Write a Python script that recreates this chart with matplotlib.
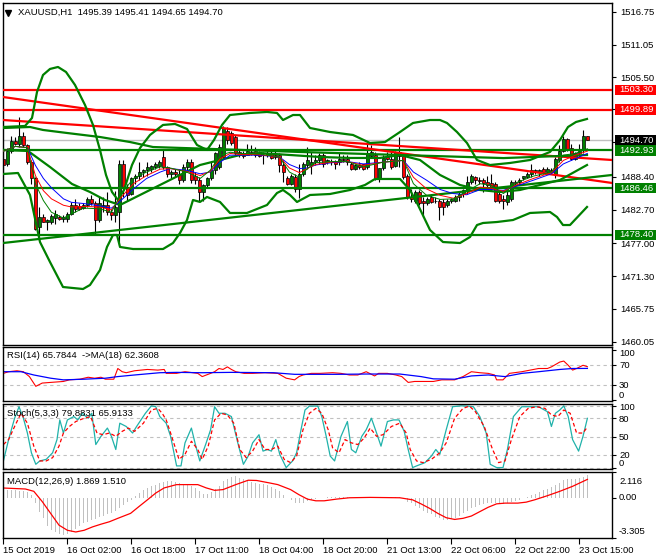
import matplotlib
matplotlib.use("Agg")
import matplotlib.pyplot as plt
from matplotlib.patches import Rectangle
import numpy as np

# ---------------- data ----------------
title_text = "XAUUSD,H1  1495.39 1495.41 1494.65 1494.70"
time_labels = ["15 Oct 2019", "16 Oct 02:00", "16 Oct 18:00", "17 Oct 11:00", "18 Oct 04:00",
               "18 Oct 20:00", "21 Oct 13:00", "22 Oct 06:00", "22 Oct 22:00", "23 Oct 15:00"]
time_label_bars = [0, 16, 32, 48, 64, 80, 96, 112, 128, 144]

opens = [1491.5, 1490.6, 1492.8, 1494.5, 1494.1, 1495.4, 1493.8, 1490.9, 1488.1, 1479.8,
         1481.5, 1480.6, 1480.6, 1481.3, 1481.5, 1481.1, 1481.1, 1482.0, 1483.6, 1483.4,
         1483.0, 1483.5, 1484.5, 1483.8, 1480.9, 1483.2, 1483.6, 1482.4, 1481.8, 1482.3,
         1490.6, 1486.6, 1485.5, 1488.1, 1488.6, 1489.2, 1489.5, 1489.8, 1490.1, 1490.3,
         1491.8, 1490.0, 1488.9, 1489.2, 1488.8, 1487.8, 1490.1, 1491.0, 1488.6, 1487.8,
         1485.8, 1486.9, 1488.1, 1489.5, 1490.1, 1491.8, 1496.3, 1495.9, 1495.2, 1492.6,
         1492.2, 1492.2, 1492.6, 1492.9, 1492.4, 1492.1, 1492.2, 1492.4, 1492.2, 1492.2,
         1490.4, 1488.1, 1487.2, 1488.4, 1486.3, 1488.9, 1490.4, 1490.4, 1490.9, 1491.2,
         1492.1, 1490.9, 1490.9, 1490.9, 1490.9, 1491.5, 1491.5, 1490.6, 1489.8, 1490.4,
         1490.5, 1490.1, 1491.9, 1492.2, 1488.2, 1489.9, 1491.8, 1491.5, 1490.3, 1492.6,
         1492.0, 1488.6, 1484.9, 1484.3, 1485.8, 1484.3, 1483.8, 1484.9, 1484.2, 1484.3,
         1484.1, 1483.5, 1484.3, 1484.3, 1484.9, 1485.5, 1486.1, 1487.5, 1488.4, 1487.8,
         1487.8, 1487.5, 1487.4, 1487.2, 1485.5, 1484.5, 1484.1, 1484.6, 1487.5, 1487.5,
         1488.1, 1488.4, 1488.9, 1489.3, 1489.2, 1489.8, 1489.2, 1489.5, 1488.9, 1491.2,
         1492.9, 1494.8, 1493.3, 1491.5, 1492.4, 1493.0, 1495.39]
highs = [1492.9, 1493.3, 1495.4, 1495.2, 1498.7, 1496.1, 1494.1, 1491.2, 1488.4, 1483.2,
         1482.0, 1481.2, 1482.0, 1482.6, 1481.9, 1481.8, 1482.3, 1484.0, 1484.6, 1483.8,
         1483.8, 1484.9, 1485.2, 1484.2, 1484.9, 1484.9, 1485.8, 1482.9, 1486.0, 1491.2,
         1491.2, 1487.2, 1488.4, 1488.9, 1490.9, 1489.8, 1490.9, 1490.4, 1490.9, 1491.2,
         1493.2, 1490.3, 1489.5, 1489.8, 1489.5, 1490.6, 1491.5, 1491.5, 1489.2, 1488.3,
         1487.2, 1488.4, 1490.9, 1492.6, 1494.0, 1497.1, 1496.9, 1496.2, 1495.5, 1493.1,
         1492.9, 1494.1, 1493.8, 1493.5, 1492.8, 1492.6, 1492.8, 1492.8, 1492.8, 1492.4,
         1491.2, 1488.6, 1488.9, 1488.9, 1490.6, 1490.9, 1493.5, 1492.6, 1492.1, 1492.4,
         1492.4, 1491.5, 1491.5, 1491.2, 1492.4, 1492.1, 1492.1, 1490.9, 1490.6, 1490.9,
         1490.6, 1494.4, 1493.8, 1492.6, 1489.9, 1492.1, 1492.6, 1492.6, 1492.9, 1495.2,
         1492.3, 1488.9, 1486.3, 1486.1, 1486.1, 1484.9, 1484.9, 1485.5, 1484.9, 1484.5,
         1484.6, 1484.5, 1484.7, 1485.2, 1485.8, 1486.3, 1488.6, 1488.9, 1488.6, 1488.4,
         1488.1, 1488.6, 1488.9, 1487.5, 1485.8, 1485.2, 1486.1, 1487.8, 1487.8, 1488.1,
         1488.6, 1489.2, 1490.6, 1489.8, 1489.8, 1490.1, 1490.1, 1489.9, 1491.8, 1493.8,
         1495.4, 1495.1, 1494.1, 1492.6, 1494.1, 1496.4, 1495.41]
lows = [1488.9, 1490.3, 1492.5, 1493.8, 1493.5, 1493.5, 1490.6, 1487.2, 1479.2, 1477.5,
        1480.6, 1479.2, 1480.3, 1480.3, 1480.9, 1480.6, 1480.6, 1481.8, 1482.3, 1482.6,
        1482.8, 1483.2, 1483.5, 1478.6, 1480.6, 1482.3, 1481.8, 1480.9, 1480.6, 1476.6,
        1484.9, 1484.3, 1485.2, 1487.2, 1487.8, 1488.3, 1488.6, 1489.2, 1489.8, 1489.9,
        1489.8, 1488.3, 1488.1, 1488.4, 1487.2, 1487.5, 1489.5, 1487.4, 1487.2, 1484.3,
        1484.3, 1486.6, 1487.8, 1488.9, 1489.8, 1491.5, 1494.1, 1493.8, 1492.1, 1491.8,
        1491.6, 1492.1, 1492.1, 1491.8, 1491.8, 1490.6, 1491.8, 1491.5, 1491.5, 1489.2,
        1487.5, 1486.9, 1486.9, 1485.8, 1484.7, 1488.6, 1489.8, 1488.9, 1490.4, 1490.6,
        1490.1, 1490.5, 1490.4, 1489.8, 1490.4, 1490.9, 1490.4, 1489.5, 1489.5, 1489.8,
        1489.5, 1489.8, 1491.6, 1487.9, 1487.5, 1489.6, 1491.2, 1489.8, 1490.0, 1490.0,
        1488.0, 1484.6, 1484.0, 1483.8, 1483.5, 1481.5, 1483.5, 1483.8, 1483.8, 1480.9,
        1481.8, 1483.2, 1483.8, 1484.0, 1484.3, 1484.9, 1485.5, 1487.2, 1487.2, 1487.2,
        1485.8, 1486.3, 1486.1, 1484.1, 1483.8, 1482.9, 1483.5, 1484.3, 1486.6, 1487.0,
        1487.8, 1488.1, 1488.4, 1488.9, 1488.6, 1488.9, 1488.9, 1488.9, 1488.1, 1490.9,
        1492.6, 1492.9, 1491.2, 1491.2, 1491.8, 1492.4, 1494.65]
closes = [1490.4, 1492.8, 1494.6, 1494.1, 1495.4, 1493.8, 1490.9, 1488.1, 1479.5, 1481.5,
          1480.7, 1480.9, 1481.6, 1482.0, 1481.2, 1481.5, 1482.0, 1483.6, 1482.9, 1482.9,
          1483.6, 1484.5, 1483.9, 1480.9, 1483.8, 1483.6, 1482.4, 1481.8, 1483.2, 1490.6,
          1486.6, 1485.3, 1488.1, 1488.6, 1489.2, 1489.5, 1490.1, 1490.2, 1490.6, 1490.9,
          1490.1, 1488.9, 1489.2, 1488.8, 1487.8, 1490.1, 1491.0, 1487.8, 1487.8, 1485.8,
          1486.9, 1488.1, 1489.5, 1492.4, 1493.5, 1496.8, 1494.7, 1494.2, 1492.4, 1492.1,
          1492.0, 1492.9, 1492.5, 1492.1, 1491.9, 1492.2, 1492.4, 1491.6, 1491.8, 1490.4,
          1489.2, 1487.2, 1488.6, 1486.3, 1488.9, 1490.6, 1491.2, 1491.0, 1491.2, 1492.1,
          1490.5, 1491.2, 1491.0, 1490.5, 1491.5, 1491.2, 1490.9, 1489.8, 1490.4, 1490.1,
          1489.7, 1492.4, 1492.6, 1488.2, 1489.9, 1491.6, 1491.5, 1490.1, 1492.6, 1492.0,
          1488.4, 1484.9, 1484.5, 1485.8, 1483.8, 1483.9, 1484.5, 1484.1, 1484.3, 1483.2,
          1483.2, 1484.3, 1484.6, 1484.9, 1485.5, 1486.1, 1487.5, 1488.6, 1487.8, 1487.6,
          1487.4, 1486.9, 1486.6, 1484.3, 1484.3, 1484.3, 1485.2, 1487.5, 1487.4, 1487.8,
          1488.5, 1488.9, 1489.5, 1489.5, 1489.5, 1489.2, 1489.8, 1489.2, 1491.5, 1492.9,
          1494.8, 1493.2, 1491.5, 1492.4, 1492.9, 1495.4, 1494.70]

# horizontal levels
green_levels = [1492.93, 1486.46, 1478.40]
red_levels = [1503.30, 1499.89]
last_price = 1494.70

# trend lines: (bar, price) anchors at the two chart edges
red_trend1 = ([-0.1, 152.2], [1502.09, 1487.32])
red_trend2 = ([-0.1, 152.2], [1498.14, 1491.27])
green_trend = ([-0.1, 152.2], [1477.01, 1488.70])

# Bollinger bands (bar, price)
bb_up_x = [0, 5.4, 7.15, 8.4, 9.9, 11.65, 13.65, 15.65, 17.9, 20.4, 22.4, 24.15, 25.65, 27.15, 28.65,
           30.15, 32.15, 34.15, 36.65, 39.9, 42.9, 45.9, 48.4, 50.9, 52.65, 54.65, 56.65, 61.65, 65.9,
           68.4, 69.9, 72.4, 74.15, 76.65, 81.65, 87.4, 91.65, 95.4, 99.15, 102.4, 106.65, 109.15,
           110.9, 113.4, 115.9, 118.4, 121.65, 126.65, 131.65, 136.65, 139.15, 141.15, 143.15, 145.9]
bb_up_y = [1496.94, 1497.11, 1498.49, 1502.95, 1505.87, 1506.91, 1507.25, 1506.39, 1504.16, 1500.72,
           1497.29, 1492.99, 1488.70, 1485.77, 1484.40, 1486.12, 1490.41, 1493.33, 1495.57, 1497.29,
           1497.46, 1496.60, 1493.85, 1492.99, 1494.71, 1497.29, 1499.00, 1499.35, 1499.52, 1499.35,
           1498.14, 1499.00, 1499.00, 1496.77, 1496.08, 1495.57, 1494.19, 1494.36, 1496.08, 1497.63,
           1498.14, 1498.14, 1497.63, 1496.08, 1494.19, 1491.27, 1490.41, 1490.76, 1491.27, 1492.65,
           1494.71, 1496.94, 1497.80, 1498.32]
bb_mid_x = [0, 6.15, 11.65, 17.15, 21.65, 25.4, 29.15, 34.15, 39.15, 44.15, 49.15, 54.15, 59.15, 64.15,
            71.65, 79.15, 86.65, 94.15, 99.15, 104.15, 109.15, 114.15, 119.15, 124.15, 129.15, 134.15,
            139.15, 145.9]
bb_mid_y = [1492.99, 1492.82, 1490.07, 1487.15, 1485.77, 1484.40, 1483.54, 1485.26, 1486.98, 1488.70,
            1490.41, 1491.27, 1492.13, 1492.47, 1492.13, 1491.79, 1491.62, 1491.62, 1492.13, 1491.27,
            1488.70, 1486.98, 1486.12, 1485.77, 1486.12, 1486.98, 1487.84, 1490.41]
bb_low_x = [0, 3.65, 6.65, 9.15, 11.65, 14.9, 19.9, 21.65, 24.15, 25.9, 27.4, 28.4, 29.15, 32.4, 39.9,
            42.4, 44.15, 45.9, 47.4, 49.15, 50.9, 54.15, 56.65, 60.9, 65.9, 68.4, 69.9, 71.65, 73.4,
            76.65, 81.65, 86.65, 90.4, 92.9, 99.15, 101.65, 103.4, 106.65, 109.9, 114.15, 116.65,
            118.4, 119.9, 123.4, 127.4, 131.65, 136.65, 138.4, 139.9, 141.65, 145.9]
bb_low_y = [1488.87, 1489.04, 1485.26, 1477.18, 1473.75, 1469.45, 1469.11, 1469.80, 1472.37, 1476.33,
            1478.39, 1478.39, 1476.33, 1475.98, 1475.98, 1477.01, 1478.73, 1480.96, 1484.40, 1484.06,
            1484.92, 1484.06, 1482.17, 1482.17, 1483.54, 1485.60, 1486.12, 1485.26, 1484.06, 1485.26,
            1485.43, 1486.12, 1486.98, 1488.01, 1488.01, 1486.12, 1483.89, 1479.25, 1477.18, 1477.01,
            1478.04, 1480.10, 1480.45, 1480.62, 1480.96, 1482.17, 1482.34, 1481.48, 1480.10, 1480.10,
            1483.20]
slow_x = [0, 6.65, 9.9, 15.9, 24.15, 31.65, 37.4, 44.9, 52.4, 74.15, 99.15, 125.0, 145.9]
slow_y = [1496.77, 1496.94, 1496.43, 1495.91, 1495.22, 1494.36, 1493.50, 1493.33, 1493.16, 1492.65,
          1492.13, 1491.60, 1492.13]

# thin moving averages (bar, price)
ma_x = [0, 3, 6, 8, 10, 12, 15, 17, 20, 24, 27, 29.2, 32.5, 35.8, 39.2, 41.7, 45.8, 49.2, 51.7, 54.2,
        56.7, 59.2, 64, 69, 71.5, 74, 76, 78, 82, 86, 90, 95, 100, 102.5, 105.8, 109.2, 112.5, 115.8,
        119.2, 122, 125, 128.3, 132.5, 137, 140, 143, 146]
ma_blue = [1492.8, 1493.6, 1493.4, 1490.35, 1488.1, 1486.5, 1484.6, 1484.0, 1483.8, 1483.4, 1483.0,
           1484.2, 1486.3, 1488.1, 1489.2, 1489.8, 1489.5, 1488.9, 1489.2, 1490.9, 1492.1, 1492.1,
           1492.1, 1491.8, 1490.5, 1489.8, 1489.9, 1490.4, 1490.8, 1491.0, 1490.6, 1490.9, 1491.2,
           1489.2, 1487.8, 1486.2, 1485.5, 1485.3, 1486.2, 1486.2, 1486.05, 1486.8, 1487.8, 1488.9,
           1490.6, 1491.5, 1492.4]
ma_red = [1492.8, 1493.6, 1493.4, 1488.6, 1486.0, 1484.6, 1483.5, 1483.2, 1483.3, 1483.2, 1482.7,
          1484.7, 1487.2, 1488.6, 1489.7, 1489.8, 1489.3, 1488.6, 1489.3, 1491.5, 1492.4, 1492.2,
          1492.2, 1491.8, 1489.9, 1489.1, 1489.8, 1490.5, 1490.9, 1491.0, 1490.35, 1490.9, 1491.2,
          1488.3, 1486.3, 1485.2, 1484.7, 1485.5, 1486.6, 1486.4, 1485.9, 1487.0, 1488.1, 1489.1,
          1491.2, 1492.1, 1492.8]
ma_green = [1492.8, 1493.6, 1493.4, 1487.2, 1484.3, 1482.3, 1481.3, 1482.0, 1483.0, 1482.9, 1482.3,
            1485.2, 1488.1, 1489.2, 1490.1, 1489.9, 1489.2, 1488.1, 1489.5, 1492.1, 1492.6, 1492.4,
            1492.3, 1491.8, 1489.2, 1488.3, 1489.8, 1490.8, 1491.0, 1491.0, 1490.1, 1490.9, 1491.2,
            1487.2, 1485.2, 1484.5, 1484.6, 1485.9, 1487.2, 1486.9, 1485.5, 1487.4, 1488.5, 1489.2,
            1492.1, 1492.4, 1493.2]

# RSI panel
rsi_x = [0, 1.3, 3.4, 5, 6.5, 8.1, 9.7, 11.8, 15, 16.5, 19.1, 21.2, 22.8, 24.4, 25.5, 27.6, 28.6, 29.7,
         30.7, 32.8, 36, 38.6, 40.2, 40.7, 43.3, 45.4, 48.6, 49.7, 51.8, 52.8, 53.9, 54.9, 56, 57, 58.1,
         60.2, 62.3, 65.4, 68.6, 70.7, 72.8, 73.9, 74.9, 77, 79.1, 82.3, 84.4, 86.5, 88.6, 90.7, 92.8,
         93.8, 96, 98.1, 99.6, 101.2, 102.8, 104.4, 107.5, 109.6, 112.8, 114.9, 117, 119.1, 121.2,
         122.8, 123.3, 124.9, 126.5, 129.6, 131.7, 133.8, 136, 137, 139.1, 140.1, 141.2, 142.3, 143.3,
         144.9, 146]
rsi_vals = [52.5, 55.8, 57.7, 55.8, 46.1, 26.7, 33.2, 34.5, 36.4, 39.6, 40.9, 44.8, 42.9, 44.8, 40.9,
            40.9, 62.2, 55.8, 53.8, 57.7, 60.3, 59.0, 60.3, 52.5, 52.5, 55.8, 52.5, 46.1, 52.5, 55.8,
            62.2, 60.3, 65.4, 60.3, 55.8, 52.5, 52.5, 53.8, 52.5, 42.9, 39.6, 46.1, 49.3, 52.5, 52.5,
            53.8, 52.5, 49.3, 49.3, 55.8, 47.4, 52.5, 52.5, 49.3, 46.1, 34.5, 36.4, 36.4, 36.4, 39.6,
            39.6, 46.1, 55.8, 53.8, 52.5, 49.3, 39.6, 39.6, 52.5, 55.8, 59.0, 62.2, 62.2, 65.4, 75.1,
            77.0, 68.6, 59.0, 62.2, 68.6, 65.78]
rsi_ma_x = [0, 4.4, 7.6, 11.8, 15, 20.2, 25.5, 28.6, 32.8, 39.1, 43.3, 49.7, 57, 67.5, 72.8, 83.3, 90.7,
            99.1, 104.4, 107.5, 112.8, 117, 121.2, 125.4, 129.6, 133.8, 139.1, 142.3, 146]
rsi_ma_vals = [55.8, 55.8, 49.3, 42.9, 39.6, 40.9, 42.9, 46.1, 49.3, 53.8, 54.5, 53.8, 54.5, 53.8, 50.6,
               50.6, 51.2, 51.2, 46.1, 41.6, 40.9, 47.4, 49.3, 46.1, 52.5, 55.8, 60.3, 62.2, 62.36]
rsi_levels = [70, 30]

# Stochastic panel
st_main_x = [0, 1.3, 2.8, 3.9, 5.0, 6.0, 7.0, 8.1, 9.1, 10.7, 12.3, 13.4, 14.1, 15.0, 16.0, 17.6, 18.6,
             19.7, 21.2, 22.1, 23.1, 24.4, 26.0, 27.0, 28.1, 29.1, 30.7, 32.3, 33.3, 35.5, 37.0, 38.1,
             39.1, 40.7, 41.8, 43.3, 44.4, 45.4, 47.0, 48.1, 49.1, 50.7, 51.8, 52.8, 53.9, 55.4, 57.0,
             58.6, 60.0, 61.2, 62.3, 63.9, 64.9, 66.0, 67.0, 68.1, 69.1, 70.7, 72.3, 73.3, 74.4, 75.4,
             76.5, 78.6, 79.6, 80.7, 81.7, 82.8, 84.4, 86.0, 87.0, 88.1, 89.6, 90.7, 92.0, 93.3, 94.4,
             96.0, 97.5, 98.9, 100.2, 101.2, 102.3, 103.3, 105.4, 107.0, 108.1, 109.1, 110.7, 112.3,
             114.4, 116.0, 117.5, 119.1, 120.7, 121.7, 123.3, 124.9, 126.0, 127.5, 129.6, 131.7, 133.8,
             136.0, 137.0, 138.0, 139.1, 140.1, 141.2, 142.3, 143.8, 144.9, 146]
st_main_vals = [10.9, 45.5, 80.0, 98.6, 80.0, 56.1, 24.2, 5.6, 11.0, 13.6, 24.2, 45.5, 77.3, 56.1, 77.3,
                82.7, 77.3, 88.0, 80.0, 88.0, 37.5, 50.8, 64.1, 50.8, 29.5, 72.0, 66.7, 56.1, 66.7, 88.0,
                100.0, 98.6, 82.7, 72.0, 50.8, 3.0, 3.0, 40.2, 64.1, 34.9, 11.0, 40.2, 61.4, 98.6, 88.0,
                88.0, 82.7, 40.2, 5.6, 18.9, 40.2, 53.4, 26.9, 29.5, 26.9, 45.5, 21.6, 0.3, 11.0, 24.2,
                61.4, 93.3, 99.6, 99.6, 82.7, 50.8, 18.9, 11.0, 50.8, 74.7, 29.5, 24.2, 50.8, 61.4, 80.0,
                56.1, 34.9, 74.7, 77.3, 77.3, 58.8, 29.5, 0.3, 3.0, 8.3, 18.9, 29.5, 21.6, 61.4, 98.6,
                100.0, 99.6, 98.6, 82.7, 56.1, 5.6, 0.3, 0.3, 29.5, 82.7, 98.6, 98.6, 98.6, 90.6, 66.7,
                88.0, 93.3, 100.0, 82.7, 45.5, 26.9, 50.8, 79.88]
st_sig_x = [0, 1.3, 2.8, 4.4, 6.0, 7.6, 9.1, 10.7, 12.3, 13.9, 15.0, 16.5, 18.1, 20.2, 21.8, 23.4, 24.9,
            26.5, 28.1, 29.7, 31.2, 32.8, 35.0, 37.0, 38.6, 39.7, 40.7, 41.8, 43.9, 45.4, 47.0, 48.6,
            49.7, 51.2, 52.8, 54.4, 56.0, 57.6, 59.1, 60.7, 62.3, 63.9, 65.4, 67.0, 68.6, 70.2, 71.8,
            73.3, 74.9, 76.5, 78.1, 79.6, 81.2, 82.3, 83.9, 85.4, 87.0, 88.6, 90.2, 91.7, 93.3, 94.9,
            97.0, 99.1, 100.7, 101.7, 103.3, 104.9, 107.0, 109.1, 110.7, 112.8, 114.9, 116.5, 118.0,
            120.2, 122.3, 123.8, 125.4, 127.0, 129.1, 131.2, 133.3, 135.4, 137.0, 138.6, 140.1, 141.7,
            143.3, 144.9, 146]
st_sig_vals = [37.5, 45.5, 66.7, 88.0, 72.0, 34.9, 11.0, 11.0, 16.3, 34.9, 56.1, 66.7, 74.7, 80.0, 82.7,
               56.1, 53.4, 56.1, 50.8, 58.8, 64.1, 58.8, 72.0, 93.3, 95.9, 88.0, 77.3, 56.1, 13.6, 21.6,
               42.8, 29.5, 13.6, 34.9, 77.3, 88.0, 85.3, 72.0, 29.5, 16.3, 26.9, 45.5, 29.5, 29.5, 34.9,
               13.6, 8.3, 18.9, 61.4, 88.0, 95.9, 88.0, 61.4, 32.2, 24.2, 45.5, 40.2, 37.5, 48.1, 64.1,
               50.8, 53.4, 66.7, 72.0, 56.1, 29.5, 11.0, 8.3, 13.6, 24.2, 40.2, 80.0, 95.9, 99.6, 90.6,
               66.7, 29.5, 8.3, 11.0, 45.5, 82.7, 95.9, 98.6, 95.9, 85.3, 82.7, 93.3, 88.0, 56.1, 56.1,
               65.91]
st_levels = [80, 50, 20]

# MACD panel (histogram one value per bar)
macd_hist = [0.67, 0.67, 0.64, 0.61, 0.58, 0.56, 0.44, 0.25, -0.44, -1.14,
             -1.69, -2.33, -2.67, -2.83, -3.0, -3.08, -3.0, -2.8, -2.53, -2.28,
             -2.11, -1.97, -1.83, -1.72, -1.61, -1.47, -1.36, -1.22, -1.06, -0.81,
             -0.61, -0.36, -0.17, 0.17, 0.39, 0.61, 0.81, 0.94, 1.08, 1.22,
             1.33, 1.36, 1.36, 1.31, 1.22, 1.17, 1.08, 0.94, 0.81, 0.53,
             0.33, 0.33, 0.44, 0.72, 1.0, 1.36, 1.56, 1.72, 1.78, 1.64,
             1.5, 1.36, 1.28, 1.22, 1.17, 1.11, 1.03, 0.89, 0.72, 0.53,
             0.25, -0.03, -0.22, -0.39, -0.44, -0.39, -0.28, -0.17, -0.11, -0.06,
             -0.03, 0.03, 0.06, 0.03, 0.05, 0.06, 0.03, 0.0, -0.03, 0.0,
             0.03, 0.05, 0.08, 0.03, 0.0, 0.03, 0.05, 0.03, 0.05, 0.05,
             -0.11, -0.31, -0.44, -0.67, -0.86, -1.06, -1.22, -1.36, -1.56, -1.69,
             -1.83, -1.83, -1.78, -1.67, -1.5, -1.28, -1.06, -0.86, -0.72, -0.61,
             -0.5, -0.42, -0.39, -0.44, -0.5, -0.5, -0.44, -0.33, -0.25, -0.17,
             -0.06, 0.06, 0.19, 0.33, 0.5, 0.61, 0.75, 0.89, 1.08, 1.22,
             1.42, 1.5, 1.53, 1.56, 1.61, 1.72, 1.869]
macd_sig_x = [0, 5.5, 7.6, 9.7, 11.8, 13.9, 16, 18.1, 20.2, 22.3, 24.4, 26.5, 28.6, 31.8, 33.9, 36, 38.1,
              40.2, 43.3, 46.5, 48.6, 50.7, 52.8, 54.9, 58.1, 61.2, 63.3, 66.5, 68.6, 71.8, 73.9, 76,
              78.1, 80.2, 83.3, 86.5, 91.7, 99.1, 102.3, 104.4, 106.5, 108.6, 110.7, 112.8, 114.9, 117,
              119.1, 121.2, 123.3, 125.4, 128.6, 130.7, 132.8, 136, 139.1, 142.3, 146]
macd_sig_vals = [0.8, 0.72, 0.53, -0.31, -1.28, -2.25, -2.67, -2.81, -2.67, -2.39, -2.17, -1.97, -1.69,
                 -1.28, -0.72, -0.17, 0.39, 0.81, 1.08, 1.08, 1.08, 0.81, 0.61, 0.67, 1.08, 1.44, 1.42,
                 1.22, 1.08, 0.67, 0.25, -0.11, -0.25, -0.25, -0.11, 0.0, 0.03, 0.0, -0.17, -0.5, -0.86,
                 -1.28, -1.64, -1.78, -1.69, -1.5, -1.14, -0.78, -0.5, -0.44, -0.44, -0.36, -0.17, 0.17,
                 0.53, 0.94, 1.51]
macd_ylim = (-3.305, 2.116)

# ---------------- drawing ----------------
W, H = 660, 560
FONT = ["Liberation Sans", "DejaVu Sans"]
FS = 6.8
plt.rcParams['font.family'] = FONT

fig = plt.figure(figsize=(W / 100, H / 100), dpi=100)
fig.patch.set_facecolor("white")


def rect(l, t, r, b):
    return [l / W, 1 - b / H, (r - l) / W, (b - t) / H]


XL = (-0.1, 152.15)
ax = fig.add_axes(rect(3, 3, 612, 345))
ax_rsi = fig.add_axes(rect(3, 347, 612, 401))
ax_st = fig.add_axes(rect(3, 404, 612, 469))
ax_macd = fig.add_axes(rect(3, 472, 612, 538))

GREEN = "#008000"
RED = "#ff0000"
BLUE = "#0000ff"

for a in (ax, ax_rsi, ax_st, ax_macd):
    a.set_xlim(*XL)
    a.set_facecolor("white")
    for s in a.spines.values():
        s.set_linewidth(1.0)
        s.set_color("black")
    a.yaxis.tick_right()
    a.tick_params(axis="y", direction="out", length=3, width=0.8, labelsize=FS, pad=3)
    a.tick_params(axis="x", bottom=False, labelbottom=False)


def side_label(text, ypix):
    """right-scale label placed at a pixel row of the figure"""
    fig.text(619 / W, 1 - ypix / H, text, fontsize=FS, va="center", ha="left", color="black")


# ---- main panel ----
ax.set_ylim(1459.49, 1518.24)
x = np.arange(len(closes))
o = np.array(opens); c = np.array(closes); h = np.array(highs); l = np.array(lows)
ax.vlines(x, l, h, color="black", lw=0.8, zorder=2)
bull = c >= o
body_lo = np.minimum(o, c)
body_h = np.maximum(np.abs(c - o), 0.08)
ax.bar(x[bull], body_h[bull], bottom=body_lo[bull], width=0.62, color=GREEN,
       edgecolor="black", linewidth=0.5, zorder=2.5)
ax.bar(x[~bull], body_h[~bull], bottom=body_lo[~bull], width=0.62, color=RED,
       edgecolor="black", linewidth=0.5, zorder=2.5)

ax.axhline(last_price, color="#c0c0c0", lw=1.0, zorder=1.5)
for lv in green_levels:
    ax.axhline(lv, color=GREEN, lw=1.6, zorder=3)
for lv in red_levels:
    ax.axhline(lv, color=RED, lw=1.6, zorder=3)
ax.plot(*red_trend1, color=RED, lw=1.6, zorder=3)
ax.plot(*red_trend2, color=RED, lw=1.6, zorder=3)
ax.plot(*green_trend, color=GREEN, lw=1.6, zorder=3)

ax.plot(bb_up_x, bb_up_y, color=GREEN, lw=1.6, zorder=3)
ax.plot(bb_mid_x, bb_mid_y, color=GREEN, lw=1.6, zorder=3)
ax.plot(bb_low_x, bb_low_y, color=GREEN, lw=1.6, zorder=3)
ax.plot(slow_x, slow_y, color=GREEN, lw=1.6, zorder=3)

ax.plot(ma_x, ma_blue, color=BLUE, lw=0.7, zorder=3.2)
ax.plot(ma_x, ma_red, color=RED, lw=0.7, zorder=3.2)
ax.plot(ma_x, ma_green, color=GREEN, lw=0.7, zorder=3.2)

main_ticks = [1516.75, 1511.05, 1505.50, 1499.95, 1494.30, 1488.40, 1482.70, 1477.00, 1471.30,
              1465.75, 1460.05]
main_tick_labels = ["1516.75", "1511.05", "1505.50", "", "", "1488.40", "1482.70", "1477.00",
                    "1471.30", "1465.75", "1460.05"]
ax.set_yticks(main_ticks)
ax.set_yticklabels(main_tick_labels)

y0, y1 = ax.get_ylim()
def price_box(val, fc, tc="white"):
    # box in figure pixels, centred on the price row
    frac = (val - y0) / (y1 - y0)
    ypix = 345 - frac * (345 - 3)
    fig.patches.append(Rectangle((615 / W, 1 - (ypix + 5.4) / H), 41 / W, 10.8 / H,
                                 transform=fig.transFigure, fc=fc, ec=fc, lw=0, zorder=9))
    fig.text(619 / W, 1 - ypix / H, f"{val:.2f}", fontsize=FS, va="center", ha="left",
             color=tc, zorder=10)

for lv in red_levels:
    price_box(lv, RED)
price_box(last_price, "black")
for lv in green_levels:
    price_box(lv, GREEN)

ax.plot([0.009], [0.972], marker="v", color="black", markersize=4, transform=ax.transAxes,
        clip_on=False)
ax.text(0.024, 0.972, title_text, transform=ax.transAxes, fontsize=FS, va="center",
        ha="left", color="black")

# ---- RSI ----
ax_rsi.set_ylim(-2.5, 105)
for lv in rsi_levels:
    ax_rsi.axhline(lv, color="#c0c0c0", lw=0.8, ls=(0, (3, 3)))
ax_rsi.plot(rsi_x, rsi_vals, color=RED, lw=0.8)
ax_rsi.plot(rsi_ma_x, rsi_ma_vals, color=BLUE, lw=0.9)
ax_rsi.set_yticks([100, 70, 30, 0])
ax_rsi.set_yticklabels([])
for t, yp in (("100", 353), ("70", 365), ("30", 385), ("0", 396)):
    side_label(t, yp)
ax_rsi.text(0.007, 0.84, "RSI(14) 65.7844  ->MA(18) 62.3608", transform=ax_rsi.transAxes,
            fontsize=FS, va="center", ha="left")

# ---- Stochastic ----
ax_st.set_ylim(-2, 103)
for lv in st_levels + [100, 0]:
    ax_st.axhline(lv, color="#c0c0c0", lw=0.8, ls=(0, (3, 3)))
ax_st.plot(st_main_x, st_main_vals, color="#20b2aa", lw=0.9)
ax_st.plot(st_sig_x, st_sig_vals, color=RED, lw=0.9, ls=(0, (3, 2)))
ax_st.set_yticks([100, 80, 50, 20, 0])
ax_st.set_yticklabels([])
for t, yp in (("100", 408), ("80", 419), ("50", 438), ("20", 456), ("0", 464)):
    side_label(t, yp)
ax_st.text(0.007, 0.86, "Stoch(5,3,3) 79.8831 65.9133", transform=ax_st.transAxes,
           fontsize=FS, va="center", ha="left")

# ---- MACD ----
ax_macd.set_ylim(*macd_ylim)
ax_macd.bar(x, macd_hist, width=0.3, color="#c0c0c0", zorder=1)
ax_macd.plot(macd_sig_x, macd_sig_vals, color=RED, lw=0.9, zorder=2)
ax_macd.set_yticks([2.116, 0.0, -3.305])
ax_macd.set_yticklabels([])
for t, yp in (("2.116", 481), ("0.00", 498), ("-3.305", 532)):
    side_label(t, yp)
ax_macd.text(0.007, 0.86, "MACD(12,26,9) 1.869 1.510", transform=ax_macd.transAxes,
             fontsize=FS, va="center", ha="left")

ax_macd.tick_params(axis="x", bottom=True, labelbottom=True, direction="out", length=4,
                    width=0.8, labelsize=FS, pad=2)
ax_macd.set_xticks(time_label_bars)
ax_macd.set_xticklabels(time_labels, ha="left")

fig.savefig("out.png", dpi=100, facecolor="white")
